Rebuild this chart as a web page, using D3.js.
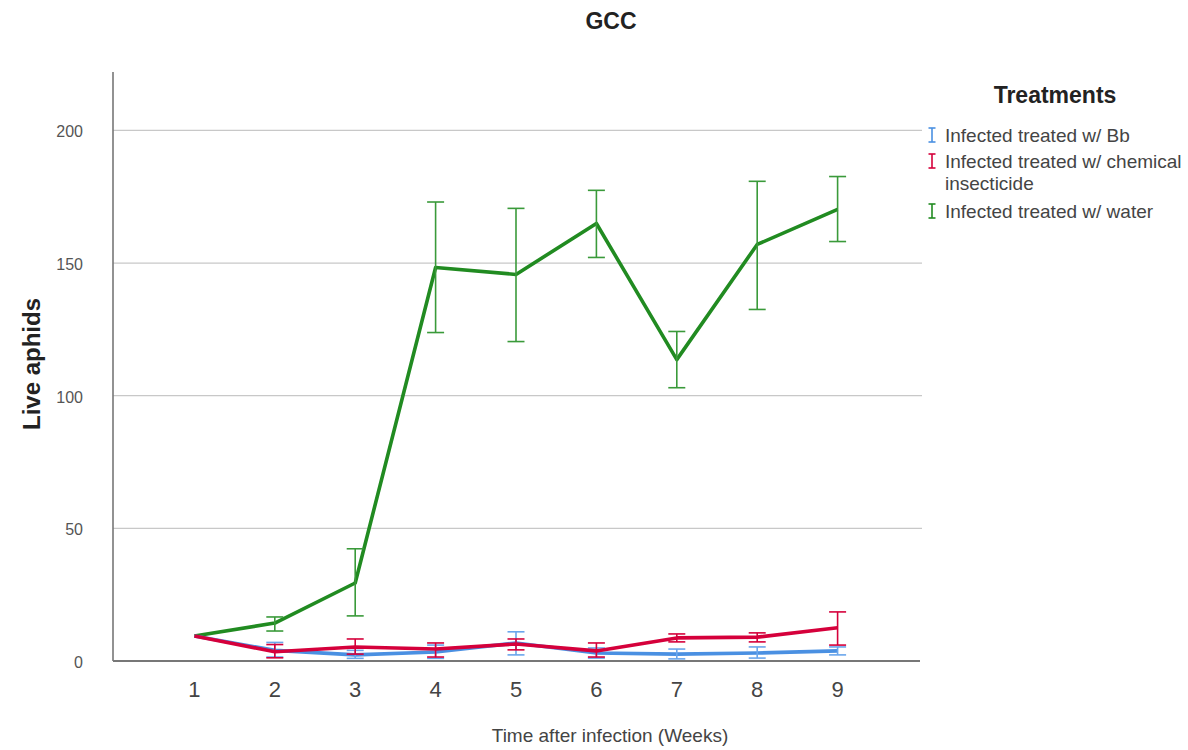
<!DOCTYPE html>
<html lang="en">
<head>
<meta charset="utf-8" />
<title>GCC – Live aphids</title>
<style>
  body{margin:0;background:#fff;font-family:"Liberation Sans",Arial,sans-serif;}
  svg text{fill:#222}
  .grid line{stroke:#c8c8c8;stroke-width:1.3}
  .tick-y{font-size:16px;fill:#555}
  .tick-x{font-size:22px;fill:#444}
  .leg text{font-size:19px;fill:#444}
</style>
<script src="https://cdn.jsdelivr.net/npm/d3@7.9.0/dist/d3.min.js"></script>
</head>
<body>
<div id="chart"></div>
<script>
/* ───────── DATA ───────── */
const weeks = [1,2,3,4,5,6,7,8,9];
const yTicks = [0,50,100,150,200];
const seriesNames = ['Infected treated w/ Bb','Infected treated w/ chemical insecticide','Infected treated w/ water'];

const bbMean  = [9.4, 4.0, 2.3, 3.4, 6.8, 3.0, 2.6, 3.0, 3.8];
const bbLow   = [9.4, 1.5, 1.0, 1.0, 2.3, 1.1, 0.8, 1.1, 2.3];
const bbHigh  = [9.4, 7.0, 4.0, 6.0, 11.0, 4.9, 4.5, 5.3, 5.3];

const chemMean = [9.4, 3.5, 5.3, 4.5, 6.4, 3.8, 8.7, 9.0, 12.5];
const chemLow  = [9.4, 1.2, 2.6, 1.5, 4.2, 1.5, 7.2, 7.2, 6.0];
const chemHigh = [9.4, 6.2, 8.3, 6.8, 8.3, 6.8, 10.2, 10.6, 18.5];

const waterMean = [9.4, 14.3, 29.4, 148.3, 145.7, 164.9, 113.6, 157.0, 170.2];
const waterLow  = [9.4, 11.3, 17.0, 123.8, 120.4, 152.1, 103.0, 132.5, 158.1];
const waterHigh = [9.4, 16.6, 42.3, 173.0, 170.6, 177.4, 124.2, 180.8, 182.6];

/* ───────── CONFIG ───────── */
const W = 1188, H = 750;
const P = {left:113, right:920, top:72, bottom:661};
const COLORS = ['#4a90e2','#d5003b','#218b21'];
const BAR_COLORS = ['#6aa6ec','#d5003b','#3a9a3a'];

const svg = d3.select('#chart').append('svg').attr('width',W).attr('height',H);

const x = d3.scaleLinear().domain([0,10]).range([P.left+1,P.right-2]);
const y = d3.scaleLinear().domain([0,222]).range([P.bottom,P.top]);

/* grid */
svg.append('g').attr('class','grid')
  .selectAll('line').data(yTicks.filter(d=>d>0)).join('line')
  .attr('x1',P.left).attr('x2',P.right+2)
  .attr('y1',d=>y(d)).attr('y2',d=>y(d));

/* axes */
svg.append('line').attr('x1',P.left).attr('x2',P.left).attr('y1',P.top).attr('y2',P.bottom)
  .attr('stroke','#777').attr('stroke-width',1.6);
svg.append('line').attr('x1',P.left).attr('x2',P.right).attr('y1',P.bottom).attr('y2',P.bottom)
  .attr('stroke','#777').attr('stroke-width',1.8);

svg.append('g').selectAll('text').data(yTicks).join('text')
  .attr('class','tick-y').attr('x',83).attr('y',d=>y(d)+7)
  .attr('text-anchor','end').text(d=>d);

svg.append('g').selectAll('text').data(weeks).join('text')
  .attr('class','tick-x').attr('x',d=>x(d)).attr('y',697)
  .attr('text-anchor','middle').text(d=>d);

/* titles */
svg.append('text').attr('x',611).attr('y',29).attr('text-anchor','middle')
  .style('font-size','23px').style('font-weight','bold').text('GCC');
svg.append('text').attr('transform','translate(40,364) rotate(-90)').attr('text-anchor','middle')
  .style('font-size','24px').style('font-weight','bold').text('Live aphids');
svg.append('text').attr('x',610).attr('y',742).attr('text-anchor','middle')
  .style('font-size','19px').style('fill','#444').text('Time after infection (Weeks)');

/* series */
const series = [
  {mean:waterMean, low:waterLow, high:waterHigh, c:2},
  {mean:bbMean, low:bbLow, high:bbHigh, c:0},
  {mean:chemMean, low:chemLow, high:chemHigh, c:1}
];
const line = d3.line().x((d,i)=>x(weeks[i])).y(d=>y(d));
const CAP = 8.5;

series.forEach(s=>{
  const g = svg.append('g');
  g.append('path').attr('d',line(s.mean)).attr('fill','none')
    .attr('stroke',COLORS[s.c]).attr('stroke-width',3.6).attr('stroke-linejoin','round');
  const eb = g.selectAll('g.eb').data(weeks.map((w,i)=>({w,lo:s.low[i],hi:s.high[i]})).filter(d=>d.hi>d.lo))
    .join('g').attr('stroke',BAR_COLORS[s.c]).attr('stroke-width',1.6);
  eb.append('line').attr('x1',d=>x(d.w)).attr('x2',d=>x(d.w)).attr('y1',d=>y(d.lo)).attr('y2',d=>y(d.hi));
  eb.append('line').attr('x1',d=>x(d.w)-CAP).attr('x2',d=>x(d.w)+CAP).attr('y1',d=>y(d.lo)).attr('y2',d=>y(d.lo));
  eb.append('line').attr('x1',d=>x(d.w)-CAP).attr('x2',d=>x(d.w)+CAP).attr('y1',d=>y(d.hi)).attr('y2',d=>y(d.hi));
});

/* legend */
const leg = svg.append('g').attr('class','leg');
leg.append('text').attr('x',1055).attr('y',103).attr('text-anchor','middle')
  .style('font-size','23px').style('font-weight','bold').style('fill','#222').text('Treatments');
const legY = [135, 161, 211];
const legLines = [['Infected treated w/ Bb'],['Infected treated w/ chemical','insecticide'],['Infected treated w/ water']];
legLines.forEach((lines,i)=>{
  const cy = legY[i];
  const gi = leg.append('g').attr('stroke',COLORS[i]).attr('stroke-width',1.6);
  gi.append('line').attr('x1',932).attr('x2',932).attr('y1',cy-7).attr('y2',cy+7);
  gi.append('line').attr('x1',928.5).attr('x2',935.5).attr('y1',cy-7).attr('y2',cy-7);
  gi.append('line').attr('x1',928.5).attr('x2',935.5).attr('y1',cy+7).attr('y2',cy+7);
  lines.forEach((t,j)=>{
    leg.append('text').attr('x',945).attr('y',cy+7+j*22).text(t);
  });
});
</script>
</body>
</html>
